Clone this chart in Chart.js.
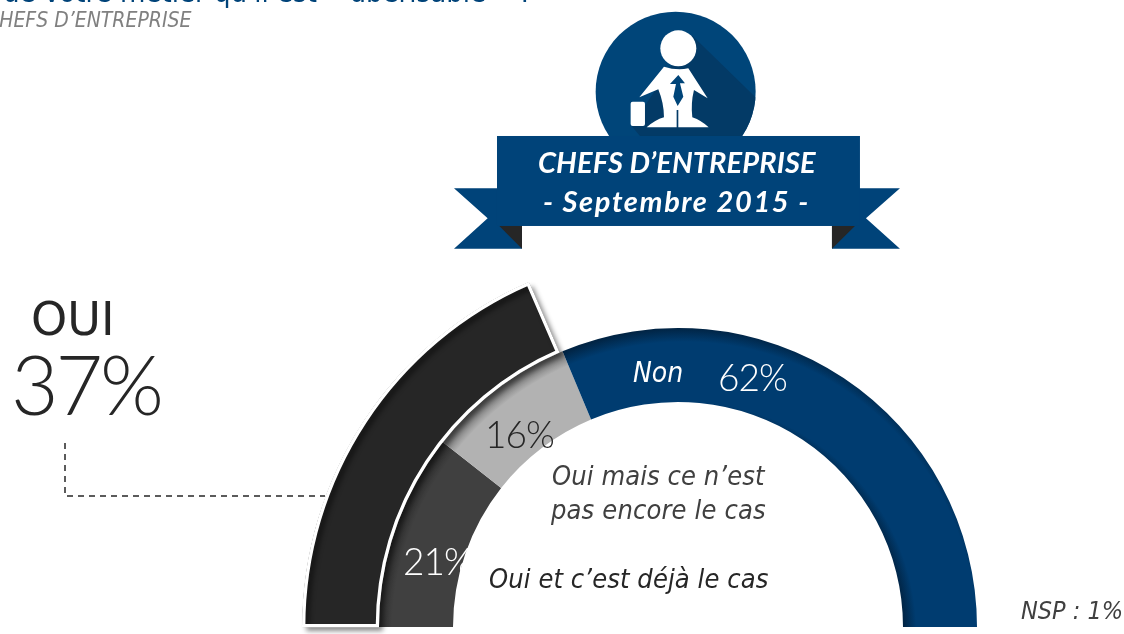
<!DOCTYPE html>
<html lang="fr">
<head>
<meta charset="utf-8">
<title>Chefs d'entreprise - Septembre 2015</title>
<script src="https://cdn.jsdelivr.net/npm/chart.js@4"></script>
<style>
  html, body { margin: 0; padding: 0; background: #fff; overflow: hidden; }
  #page { position: relative; width: 1124px; height: 634px; overflow: hidden; }
  #page svg, #page canvas { position: absolute; left: 0; top: 0; }
  .txt { position: absolute; white-space: nowrap; line-height: 1; }
  .tahoma { font-family: "DejaVu Sans", sans-serif; font-stretch: condensed; }
  .gothic { font-family: Lato, sans-serif; font-weight: 300; letter-spacing: -1px; }
  .it { font-style: italic; }
</style>
</head>
<body>
<div id="page">
  <svg width="1124" height="634" viewBox="0 0 1124 634">
    <path d="M65 443 V496 H325" fill="none" stroke="#262626" stroke-width="1.5" stroke-dasharray="6 5"/>
    <g transform="translate(440 0) scale(0.3333)">
      <defs><clipPath id="disc"><circle cx="707" cy="275" r="240"/></clipPath></defs>
      <circle cx="707" cy="275" r="240" fill="#004579"/>
      <path d="M755 105 L960 305 L930 420 H610 L575 378 Z" fill="#033a66" clip-path="url(#disc)"/>
      <circle cx="715" cy="145" r="54" fill="#fff"/>
      <path d="M672 200 Q710 212 745 205 L803 295 L762 270 Q752 310 757 352 Q785 362 806 382 H715 V330 H710 V382 H620 Q645 360 672 352 Q672 310 655 268 L598 292 Z" fill="#fff"/>
      <path d="M715 225 L735 250 H720 L730 290 L713 318 L700 290 L708 252 H690 Z" fill="#004579"/>
      <rect x="572" y="305" width="43" height="73" rx="6" fill="#fff"/>
      <path d="M42 565 H246 V746 H42 L143 655 Z M1380 565 H1176 V746 H1380 L1278 655 Z" fill="#004379"/>
      <rect x="171" y="408" width="1089" height="270" fill="#004379"/>
      <path d="M178 678 H246 V746 Z M1245 678 H1176 V746 Z" fill="#262626"/>
    </g>
  </svg>
  <canvas id="gauge" width="1124" height="634"></canvas>

  <div class="txt tahoma" style="left:3px;top:-22px;font-size:29px;color:#004379">de votre métier qu'il est « ubérisable » ?</div>
  <div class="txt tahoma it" style="left:-14px;top:10px;font-size:21px;color:#808080">CHEFS D’ENTREPRISE</div>

  <div class="txt" style="left:538px;top:144px;font:italic 700 29px Lato,sans-serif;color:#fff;letter-spacing:.1px">CHEFS D’ENTREPRISE</div>
  <div class="txt" style="left:543px;top:183px;font:italic 700 29px Lato,sans-serif;color:#fff;letter-spacing:1.6px">- Septembre 2015 -</div>

  <div class="txt tahoma" style="left:31px;top:296px;font-size:46px;color:#262626;font-stretch:normal">OUI</div>
  <div class="txt gothic" id="ouiPct" style="left:11px;top:342px;font-size:82px;color:#262626;letter-spacing:-3px"></div>

  <div class="txt tahoma it" id="nonCat" style="left:633px;top:359px;font-size:28px;color:#fff"></div>
  <div class="txt gothic" id="nonPct" style="left:718px;top:358px;font-size:37px;color:#fff"></div>
  <div class="txt gothic" id="midPct" style="left:485px;top:415px;font-size:37px;color:#262626"></div>
  <div class="txt gothic" id="lowPct" style="left:403px;top:542px;font-size:37px;color:#fff"></div>

  <div class="txt tahoma it" style="left:552px;top:462px;font-size:27px;color:#404040;letter-spacing:.1px">Oui mais ce n’est</div>
  <div class="txt tahoma it" style="left:551px;top:496px;font-size:27px;color:#404040;letter-spacing:.15px">pas encore le cas</div>
  <div class="txt tahoma it" id="lowCat" style="left:489px;top:565px;font-size:27px;color:#262626;letter-spacing:.1px"></div>
  <div class="txt tahoma it" id="nsp" style="left:1021px;top:598px;font-size:25px;color:#404040"></div>
</div>

<script>
const categories = ['Oui et c’est déjà le cas', 'Oui mais ce n’est pas encore le cas', 'Non'];
const ringValues = [21, 16, 62];
const ouiValues = [37, 63];
const nspValue = 1;

const ringColors = ['#404040', '#b2b2b2', '#003c70'];
const ringRims = ['#2c2c2c', '#707070', '#012444'];

const centerX = 678;
const centerY = 628;
const innerR = 225;
const ringR = 299;
const outerR = 376;

// inner shadow falling from the top left: the gradient centre sits a bit down and right of the ring
function ringFill(context) {
  const i = context.dataIndex;
  const g = context.chart.ctx.createRadialGradient(centerX + 6, centerY + 6, 214, centerX + 6, centerY + 6, 306);
  g.addColorStop(0, ringRims[i]);
  g.addColorStop(0.06, ringRims[i]);
  g.addColorStop(0.2, ringColors[i]);
  g.addColorStop(0.85, ringColors[i]);
  g.addColorStop(1, ringRims[i]);
  return g;
}

const ouiShadow = {
  id: 'ouiShadow',
  beforeDatasetDraw(chart, args) {
    if (args.index !== 0) return;
    const ctx = chart.ctx;
    ctx.save();
    ctx.shadowColor = 'rgba(0,0,0,0.45)';
    ctx.shadowBlur = 5;
    ctx.shadowOffsetX = 4;
    ctx.shadowOffsetY = 4;
  },
  afterDatasetDraw(chart, args) {
    if (args.index === 0) chart.ctx.restore();
  }
};

new Chart(document.getElementById('gauge'), {
  type: 'doughnut',
  data: {
    labels: categories,
    datasets: [
      {
        data: ouiValues,
        weight: outerR - ringR,
        backgroundColor: ['#262626', 'rgba(0,0,0,0)'],
        borderColor: ['#ffffff', 'rgba(0,0,0,0)'],
        borderWidth: [3, 0],
        borderAlign: 'inner'
      },
      {
        data: ringValues,
        weight: ringR - innerR,
        backgroundColor: ringFill,
        borderWidth: 0
      }
    ]
  },
  options: {
    responsive: false,
    animation: false,
    rotation: -90,
    circumference: 180,
    radius: outerR,
    cutout: (innerR / outerR * 100) + '%',
    layout: { padding: { left: 232, top: 244 } },
    plugins: { legend: { display: false }, tooltip: { enabled: false } }
  },
  plugins: [ouiShadow]
});

document.getElementById('ouiPct').textContent = ouiValues[0] + '%';
document.getElementById('nonCat').textContent = categories[2];
document.getElementById('nonPct').textContent = ringValues[2] + '%';
document.getElementById('midPct').textContent = ringValues[1] + '%';
document.getElementById('lowPct').textContent = ringValues[0] + '%';
document.getElementById('lowCat').textContent = categories[0];
document.getElementById('nsp').textContent = 'NSP : ' + nspValue + '%';
</script>
</body>
</html>
